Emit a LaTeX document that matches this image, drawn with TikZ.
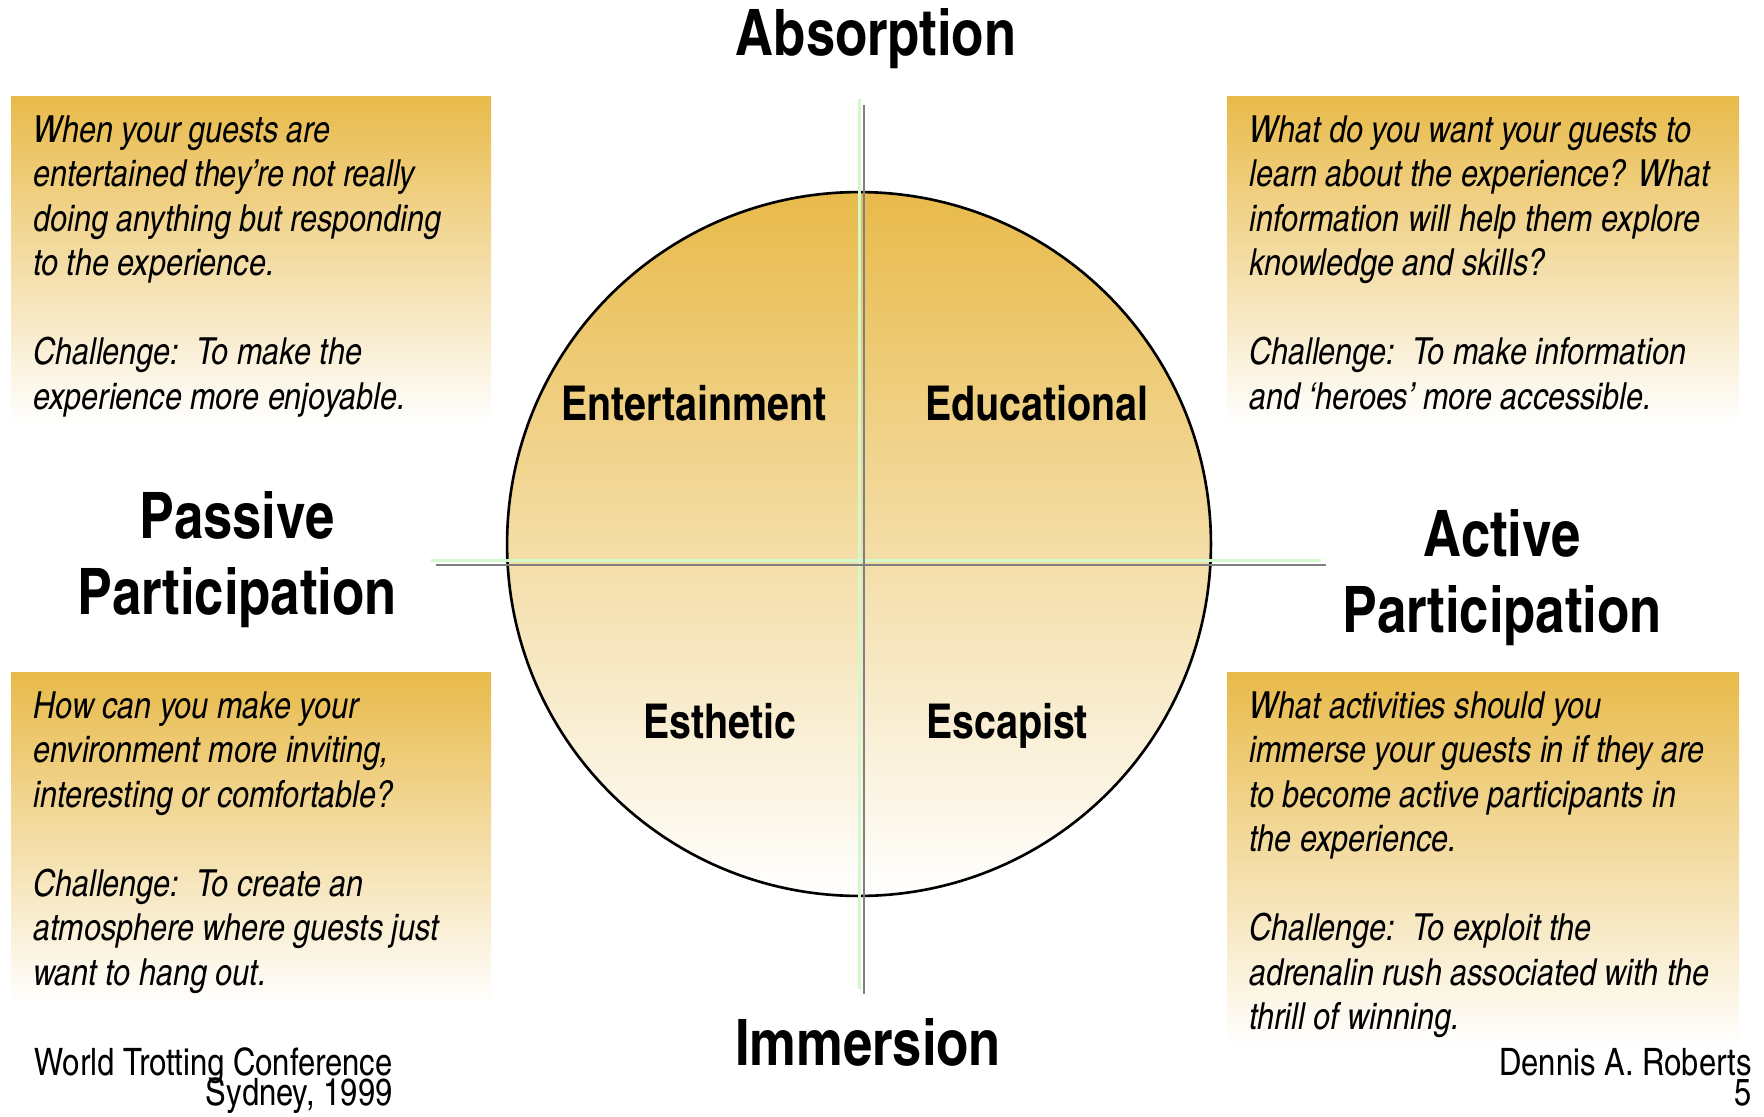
\documentclass[tikz,border=0pt]{standalone}
\usepackage{fontspec}
\setmainfont{texgyreheroscn}[Extension=.otf, UprightFont=*-regular, BoldFont=*-bold, ItalicFont=*-italic, BoldItalicFont=*-bolditalic]
\usetikzlibrary{positioning}
\definecolor{gold}{RGB}{232,186,74}
\definecolor{axisgray}{RGB}{128,128,128}
\definecolor{axisgreen}{RGB}{210,248,204}

\begin{document}
\begin{tikzpicture}[x=0.02cm, y=-0.02cm,
        notebox/.style={top color=gold, bottom color=white, draw=none},
        notetext/.style={anchor=north west, inner sep=0pt, align=left, font=\fontsize{21.2}{25.3}\selectfont\itshape},
        axislabel/.style={anchor=base, inner sep=0pt, font=\fontsize{36.5}{43}\selectfont\bfseries},
        quadlabel/.style={anchor=base, inner sep=0pt, font=\fontsize{27.3}{34}\selectfont\bfseries},
        footer/.style={anchor=base east, inner sep=0pt, font=\fontsize{21.5}{16}\selectfont}]
        \useasboundingbox (0,0) rectangle (1764,1116);
        % Shaded boxes with the questions
        \fill[notebox] (11,96) rectangle (491,424);
        \fill[notebox] (1227,96) rectangle (1739,424);
        \fill[notebox] (11,672) rectangle (491,1004);
        \fill[notebox] (1227,672) rectangle (1739,1047);
        \node[notetext] (Q1) at (33,111) {\strut When your guests are\\entertained they're not really\\doing anything but responding\\to the experience.\\[25.3pt]Challenge:\ \ To make the\\experience more enjoyable.};
        \node[notetext] (Q2) at (1249,111) {\strut What do you want your guests to\\learn about the experience? What\\information will help them explore\\knowledge and skills?\\[25.3pt]Challenge:\ \ To make information\\and `heroes' more accessible.};
        \node[notetext] (Q3) at (33,687) {\strut How can you make your\\environment more inviting,\\interesting or comfortable?\\[25.3pt]Challenge:\ \ To create an\\atmosphere where guests just\\want to hang out.};
        \node[notetext] (Q4) at (1249,687) {\strut What activities should you\\immerse your guests in if they are\\to become active participants in\\the experience.\\[25.3pt]Challenge:\ \ To exploit the\\adrenalin rush associated with the\\thrill of winning.};
        % The circle
        \node[circle, draw, line width=1.5pt, inner sep=0pt, minimum size=14.08cm, top color=gold, bottom color=white] (wheel) at (859,544) {};
        % Axes
        \coordinate (gN) at (859,99);
        \coordinate (gS) at (859,989);
        \coordinate (gW) at (431,560);
        \coordinate (gE) at (1321,560);
        \coordinate (aN) at (864,105);
        \coordinate (aS) at (864,994);
        \coordinate (aW) at (436,565);
        \coordinate (aE) at (1326,565);
        \draw[axisgreen, line width=1.7pt] (gN) -- (gS);
        \draw[axisgreen, line width=1.7pt] (gW) -- (gE);
        \draw[axisgray, line width=1.5pt] (aN) -- (aS);
        \draw[axisgray, line width=1.5pt] (aW) -- (aE);
        % Quadrants
        \node[quadlabel] (ent) at (694,420) {Entertainment};
        \node[quadlabel] (edu) at (1037,420) {Educational};
        \node[quadlabel] (est) at (720,738) {Esthetic};
        \node[quadlabel] (esc) at (1007,738) {Escapist};
        % Axis labels
        \node[axislabel] (absorb) at (876,55) {Absorption};
        \node[axislabel] (immerse) at (868,1065) {Immersion};
        \node[axislabel] (pas1) at (237,538) {Passive};
        \node[axislabel] (pas2) at (237,614) {Participation};
        \node[axislabel] (act1) at (1502,556) {Active};
        \node[axislabel] (act2) at (1502,632) {Participation};
        % Footer
        \node[footer] (conf) at (393,1075) {World Trotting Conference};
        \node[footer] (place) at (393,1105) {Sydney, 1999};
        \node[footer] (author) at (1752,1075) {Dennis A. Roberts};
        \node[footer] (page) at (1752,1105) {5};
\end{tikzpicture}
\end{document}
